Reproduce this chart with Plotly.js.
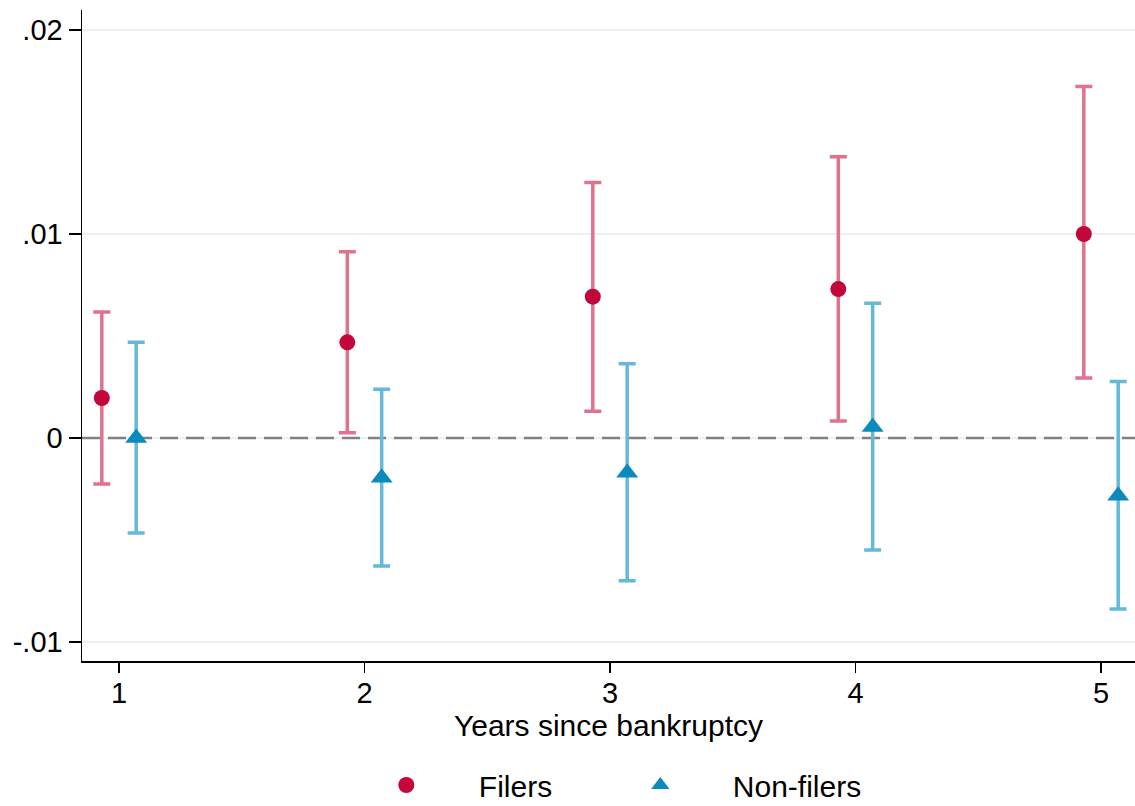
<!DOCTYPE html>
<html>
<head>
<meta charset="utf-8">
<script src="https://cdn.plot.ly/plotly-3.0.1.min.js"></script>
<style>html,body{margin:0;padding:0;background:#fff;}#chart{width:1135px;height:806px;}</style>
</head>
<body>
<div id="chart"></div>
<script>
// Data
const years = [1, 2, 3, 4, 5];
const filersEst   = [0.00196, 0.00469, 0.00693, 0.00730, 0.01000];
const filersLow   = [-0.00225, 0.00026, 0.00131, 0.00083, 0.00294];
const filersHigh  = [0.00618, 0.00913, 0.01252, 0.01379, 0.01723];
const nonEst      = [0.00000, -0.00195, -0.00170, 0.00054, -0.00283];
const nonLow      = [-0.00466, -0.00627, -0.00700, -0.00549, -0.00838];
const nonHigh     = [0.00470, 0.00239, 0.00364, 0.00660, 0.00277];
const yTickVals   = [-0.01, 0, 0.01, 0.02];
const yTickText   = ['-.01', '0', '.01', '.02'];

const off = 0.07;
const xRange = [0.8493, 5.1385];
const FONT = 'Liberation Sans, Arial, Helvetica, sans-serif';
const pad = '\u00a0\u00a0\u00a0\u00a0\u00a0\u00a0\u200a';

const zeroLine = {
  type: 'scatter', mode: 'lines', x: xRange, y: [0, 0], showlegend: false,
  hoverinfo: 'skip', line: {color: '#808080', width: 2.5, dash: '18px,8px'}
};
const filers = {
  type: 'scatter', mode: 'markers', name: pad + 'Filers',
  x: years.map(v => v - off), y: filersEst,
  marker: {symbol: 'circle', size: 16, color: '#c3073a'},
  error_y: {type: 'data', symmetric: false,
    array: filersHigh.map((h, i) => h - filersEst[i]),
    arrayminus: filersLow.map((l, i) => filersEst[i] - l),
    color: '#e0718f', thickness: 3.5, width: 8.5},
  cliponaxis: false
};
const nonfilers = {
  type: 'scatter', mode: 'markers', name: pad + 'Non-filers',
  x: years.map(v => v + off), y: nonEst,
  marker: {symbol: 'triangle-up', size: 19, color: '#0a8abd'},
  error_y: {type: 'data', symmetric: false,
    array: nonHigh.map((h, i) => h - nonEst[i]),
    arrayminus: nonLow.map((l, i) => nonEst[i] - l),
    color: '#64b9da', thickness: 3.5, width: 8.5},
  cliponaxis: false
};

const layout = {
  width: 1135, height: 806,
  margin: {l: 82, r: 0, t: 10, b: 145, autoexpand: false},
  paper_bgcolor: '#fff', plot_bgcolor: '#fff',
  font: {family: FONT, size: 29, color: '#000'},
  showlegend: true,
  legend: {orientation: 'h', x: 0.289, xanchor: 'left', y: -0.2304, yanchor: 'bottom',
    font: {family: FONT, size: 30, color: '#000'}, entrywidth: 209, entrywidthmode: 'pixels'},
  xaxis: {
    range: xRange, tickvals: years, ticktext: years.map(String),
    showgrid: false, zeroline: false, showline: true, linecolor: '#000', linewidth: 1.5,
    ticks: 'outside', ticklen: 10, tickwidth: 1.5, tickcolor: '#000',
    tickfont: {family: FONT, size: 29}, automargin: false, ticklabelstandoff: -4,
    title: {text: 'Years since bankruptcy', font: {family: FONT, size: 30}, standoff: 0}
  },
  yaxis: {
    range: [-0.01093, 0.02098], tickvals: yTickVals, ticktext: yTickText,
    showgrid: true, gridcolor: '#e9f1f3', gridwidth: 2, zeroline: false,
    showline: true, linecolor: '#000', linewidth: 1.5, automargin: false,
    ticks: 'outside', ticklen: 12, tickwidth: 1.5, tickcolor: '#000',
    tickfont: {family: FONT, size: 29}
  }
};

Plotly.newPlot('chart', [zeroLine, filers, nonfilers], layout, {displayModeBar: false, staticPlot: true});
</script>
</body>
</html>
